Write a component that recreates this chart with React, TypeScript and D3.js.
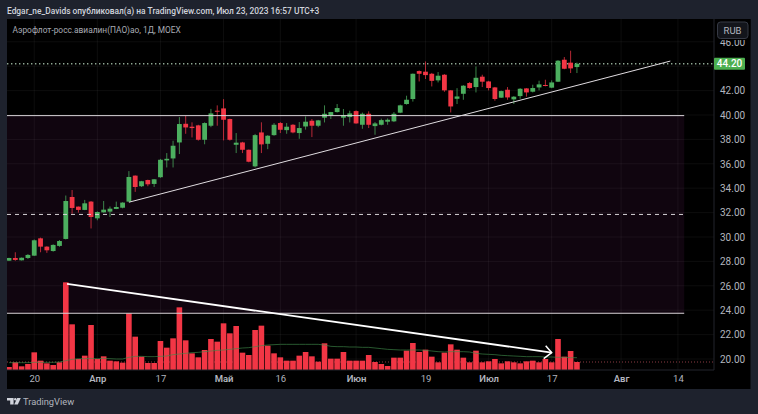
import React, { useRef, useEffect } from 'react';
import * as d3 from 'd3';

const opens = [28.06, 28.28, 28.09, 28.28, 28.47, 29.89, 29.21, 28.85, 29.27, 29.84, 33.28, 32.49, 32.22, 32.9, 31.53, 32.02, 32.08, 32.3, 32.4, 32.9, 35.03, 34.16, 34.67, 34.35, 34.9, 36.28, 36.44, 37.75, 39.28, 39.04, 39.15, 37.97, 39.12, 40.35, 40.54, 39.67, 37.56, 37.75, 37.15, 35.79, 38.57, 37.64, 38.35, 39.34, 38.76, 39.2, 38.52, 39.06, 39.53, 39.12, 39.78, 39.97, 40.24, 39.78, 39.83, 40.32, 39.2, 40.1, 39.09, 39.2, 39.45, 39.48, 40.19, 40.9, 41.31, 43.6, 43.55, 43.38, 42.84, 43.3, 42.02, 41.33, 41.74, 42.62, 42.29, 43.14, 42.75, 42.26, 41.42, 42.07, 41.28, 41.55, 42.18, 41.91, 42.26, 42.46, 42.24, 42.73, 44.53, 44.29, 43.93];
const closes = [28.28, 28.12, 28.3, 28.53, 29.73, 29.21, 28.91, 29.35, 29.67, 32.95, 32.38, 32.22, 32.76, 31.64, 32.05, 32.24, 32.32, 32.46, 32.82, 34.92, 34.1, 34.57, 34.32, 34.73, 36.33, 36.41, 37.48, 39.26, 38.98, 38.93, 37.97, 39.34, 40.13, 40.27, 39.61, 37.97, 37.73, 37.15, 36.17, 38.35, 37.59, 38.3, 39.2, 38.79, 39.04, 38.57, 38.93, 39.45, 39.12, 39.56, 40.1, 40.24, 40.57, 39.99, 40.13, 39.31, 40.1, 39.2, 39.31, 39.58, 39.61, 40.1, 40.79, 41.25, 43.38, 43.38, 43.27, 42.8, 43.22, 42.02, 40.7, 41.52, 42.4, 42.21, 43.05, 42.73, 42.21, 41.31, 41.96, 41.44, 41.5, 42.15, 41.85, 42.21, 42.51, 42.4, 42.67, 44.45, 43.79, 43.82, 44.2];
const highs = [28.3, 28.75, 28.32, 28.6, 29.8, 29.95, 29.25, 29.4, 29.75, 33.4, 33.85, 32.5, 33.04, 32.95, 32.1, 32.95, 32.5, 32.9, 32.85, 35.4, 35.05, 34.6, 34.7, 34.75, 36.4, 36.88, 37.89, 39.83, 39.94, 39.4, 39.2, 39.4, 40.5, 40.79, 41.3, 39.7, 38.52, 37.8, 37.17, 38.45, 39.4, 38.35, 39.34, 39.42, 39.34, 39.25, 39.42, 39.88, 39.67, 39.6, 40.79, 40.25, 40.9, 40.49, 40.35, 40.38, 40.2, 40.3, 39.42, 39.7, 39.72, 40.24, 40.85, 41.58, 43.4, 43.65, 44.39, 43.45, 43.52, 43.35, 42.05, 42.2, 42.45, 42.7, 43.98, 43.3, 42.8, 42.3, 42.0, 42.29, 41.55, 42.2, 42.2, 42.48, 42.81, 42.89, 42.84, 44.5, 44.75, 45.27, 44.3];
const lows = [28.04, 28.05, 28.07, 28.2, 28.45, 28.75, 28.7, 28.8, 29.2, 29.8, 31.9, 32.0, 32.2, 30.7, 31.37, 32.0, 31.64, 32.28, 32.35, 32.88, 33.7, 34.1, 34.16, 34.1, 34.85, 35.7, 35.7, 36.8, 38.46, 38.16, 37.9, 37.6, 39.0, 39.12, 37.92, 37.9, 36.88, 36.88, 36.12, 35.7, 36.88, 37.2, 38.3, 38.52, 38.46, 38.5, 38.05, 38.8, 38.19, 39.0, 39.39, 39.67, 40.2, 39.12, 39.39, 39.28, 38.87, 38.93, 38.38, 39.15, 39.2, 39.42, 40.15, 40.85, 41.1, 42.75, 42.95, 42.34, 42.67, 41.9, 40.21, 40.9, 41.25, 42.15, 41.85, 42.29, 42.02, 41.17, 41.4, 41.25, 40.9, 41.33, 41.5, 41.85, 42.02, 42.35, 42.2, 42.7, 43.75, 43.44, 43.44];
const volumes = [9, 23, 11, 18, 53, 28, 20, 15, 23, 263, 137, 33, 43, 135, 33, 41, 28, 26, 22, 170, 100, 40, 21, 21, 87, 67, 95, 188, 89, 50, 38, 60, 93, 85, 140, 110, 132, 52, 45, 120, 133, 73, 50, 38, 28, 28, 43, 54, 41, 25, 80, 34, 34, 54, 28, 28, 28, 45, 24, 18, 12, 37, 37, 58, 81, 54, 61, 40, 23, 52, 77, 61, 37, 23, 58, 23, 26, 33, 20, 26, 23, 20, 26, 28, 23, 33, 23, 93, 40, 57, 24];
const volumeMa = [22, 22, 22, 22, 23, 23, 23, 23, 24, 28, 32, 34, 34, 35, 34, 35, 34, 33, 33, 38, 41, 41, 40, 40, 41, 42, 46, 48, 50, 52, 53, 55, 57, 59, 60, 62, 64, 66, 67, 70, 73, 75, 76, 77, 77, 77, 77, 77, 77, 77, 75, 71, 70, 70, 69, 69, 68, 68, 66, 64, 62, 61, 60, 60, 60, 60, 59, 57, 55, 54, 55, 55, 55, 54, 50, 48, 47, 46, 44, 43, 42, 41, 40, 40, 40, 39, 39, 38, 38, 37, 37];

const lastPrice = 44.2;
const lastVolume = 24;
const gridPrices = [20, 22, 24, 26, 28, 30, 32, 34, 36, 38, 40, 42, 44, 46];
// 44.00 sits under the last price badge, so it gets no label
const priceLabels = [20, 22, 24, 26, 28, 30, 32, 34, 36, 38, 40, 42, 46];
const timeTickIndex = [4, 14, 24, 34, 43, 55, 66, 76, 86, 97, 106];
const timeTickLabels = ['20', 'Апр', '17', 'Май', '16', 'Июн', '19', 'Июл', '17', 'Авг', '14'];
const monthLabels = new Set(['Апр', 'Май', 'Июн', 'Июл', 'Авг']);

// levels and drawings from the author, [index, price]
const zoneTop = 39.95;
const zoneMid = 31.85;
const zoneBottom = 23.75;
const zoneEndIndex = 107;
const supportLine: [number, number][] = [[19, 32.85], [104.8, 44.42]];
const volumeArrow: [number, number][] = [[9.2, 26.15], [86, 20.52]];

const WIDTH = 758;
const HEIGHT = 414;
const pane = { left: 7, right: 714, top: 19, bottom: 370, outerRight: 750.5, outerBottom: 389 };

const GREEN = '#4caf5f';
const RED = '#f23645';
const FONT = 'Roboto, "Liberation Sans", sans-serif';

const App: React.FC = () => {
  const svgRef = useRef<SVGSVGElement>(null);

  useEffect(() => {
    if (!svgRef.current) return;
    const svg = d3.select(svgRef.current);
    svg.selectAll('*').remove();

    const xScale = d3.scaleLinear().domain([0, 106]).range([9, 677.9]);
    const yScale = d3.scaleLinear().domain([20, 40]).range([359, 115]);
    const volScale = d3.scaleLinear().domain([0, 300]).range([370, 270]);

    // page and chart panel
    svg.append('rect').attr('width', WIDTH).attr('height', HEIGHT).attr('fill', '#1e222d');
    svg.append('rect')
      .attr('x', pane.left)
      .attr('y', pane.top)
      .attr('width', pane.outerRight - pane.left)
      .attr('height', pane.outerBottom - pane.top)
      .attr('fill', '#000000');

    svg.append('defs').append('clipPath').attr('id', 'pane-clip').append('rect')
      .attr('x', pane.left)
      .attr('y', pane.top)
      .attr('width', pane.right - pane.left)
      .attr('height', pane.bottom - pane.top);

    const g = svg.append('g').attr('clip-path', 'url(#pane-clip)');

    // purple zone between the levels
    g.append('rect')
      .attr('x', pane.left)
      .attr('y', yScale(zoneTop))
      .attr('width', xScale(zoneEndIndex) - pane.left)
      .attr('height', yScale(zoneBottom) - yScale(zoneTop))
      .attr('fill', '#10050f');

    // grid
    g.selectAll('.grid-v')
      .data(timeTickIndex)
      .enter()
      .append('line')
      .attr('x1', d => xScale(d))
      .attr('x2', d => xScale(d))
      .attr('y1', pane.top)
      .attr('y2', pane.bottom)
      .attr('stroke', '#ffffff')
      .attr('stroke-opacity', 0.05);

    g.selectAll('.grid-h')
      .data(gridPrices)
      .enter()
      .append('line')
      .attr('x1', pane.left)
      .attr('x2', pane.right)
      .attr('y1', d => yScale(d))
      .attr('y2', d => yScale(d))
      .attr('stroke', '#ffffff')
      .attr('stroke-opacity', 0.05);

    // last price / last volume lines
    g.append('line')
      .attr('x1', pane.left)
      .attr('x2', pane.right)
      .attr('y1', yScale(lastPrice))
      .attr('y2', yScale(lastPrice))
      .attr('stroke', '#8fa893')
      .attr('stroke-width', 1.4)
      .attr('stroke-dasharray', '1.4 2.6');

    g.append('line')
      .attr('x1', pane.left)
      .attr('x2', pane.right)
      .attr('y1', volScale(lastVolume))
      .attr('y2', volScale(lastVolume))
      .attr('stroke', '#8a3a42')
      .attr('stroke-dasharray', '1 2');

    // volume
    g.selectAll('.vol')
      .data(volumes)
      .enter()
      .append('rect')
      .attr('x', (_, i) => xScale(i) - 2.8)
      .attr('y', d => volScale(d))
      .attr('width', 5.6)
      .attr('height', d => volScale(0) - volScale(d))
      .attr('fill', RED);

    const maLine = d3.line<number>()
      .x((_, i) => xScale(i))
      .y(d => volScale(d));

    g.append('path')
      .attr('d', maLine(volumeMa))
      .attr('fill', 'none')
      .attr('stroke', '#3f8a4a')
      .attr('stroke-opacity', 0.8)
      .attr('stroke-width', 0.8);

    // candles
    const candles = g.selectAll('.candle')
      .data(opens)
      .enter()
      .append('g')
      .attr('fill', (d, i) => (closes[i] >= d ? GREEN : RED))
      .attr('stroke', (d, i) => (closes[i] >= d ? GREEN : RED));

    candles.append('line')
      .attr('x1', (_, i) => xScale(i))
      .attr('x2', (_, i) => xScale(i))
      .attr('y1', (_, i) => yScale(highs[i]))
      .attr('y2', (_, i) => yScale(lows[i]))
      .attr('stroke-opacity', 0.75)
      .attr('stroke-width', 1);

    candles.append('rect')
      .attr('x', (_, i) => xScale(i) - 2.4)
      .attr('y', (d, i) => yScale(Math.max(d, closes[i])))
      .attr('width', 4.8)
      .attr('height', (d, i) => Math.max(1, Math.abs(yScale(d) - yScale(closes[i]))))
      .attr('stroke', 'none');

    // horizontal levels
    [zoneTop, zoneBottom].forEach(level => {
      g.append('line')
        .attr('x1', pane.left)
        .attr('x2', xScale(zoneEndIndex))
        .attr('y1', yScale(level))
        .attr('y2', yScale(level))
        .attr('stroke', '#d8d4d8')
        .attr('stroke-width', 1);
    });

    g.append('line')
      .attr('x1', pane.left)
      .attr('x2', xScale(zoneEndIndex))
      .attr('y1', yScale(zoneMid))
      .attr('y2', yScale(zoneMid))
      .attr('stroke', '#d8d4d8')
      .attr('stroke-width', 1)
      .attr('stroke-dasharray', '4 4');

    // trend line and arrow
    const drawLine = d3.line<[number, number]>()
      .x(d => xScale(d[0]))
      .y(d => yScale(d[1]));

    g.append('path')
      .attr('d', drawLine(supportLine))
      .attr('fill', 'none')
      .attr('stroke', '#e0dce0')
      .attr('stroke-width', 1);

    g.append('path')
      .attr('d', drawLine(volumeArrow))
      .attr('fill', 'none')
      .attr('stroke', '#ffffff')
      .attr('stroke-width', 1.8);

    const tipX = xScale(volumeArrow[1][0]);
    const tipY = yScale(volumeArrow[1][1]);
    g.append('path')
      .attr('d', `M${tipX - 6},${tipY - 7}L${tipX},${tipY}L${tipX - 8},${tipY + 6}`)
      .attr('fill', 'none')
      .attr('stroke', '#ffffff')
      .attr('stroke-width', 1.5);

    // axes
    const xAxis = d3.axisBottom(xScale)
      .tickValues(timeTickIndex)
      .tickSize(0)
      .tickPadding(5)
      .tickFormat((_, i) => timeTickLabels[i]);

    const xAxisGroup = svg.append('g')
      .attr('transform', `translate(0,${pane.bottom})`)
      .call(xAxis);
    xAxisGroup.select('.domain')
      .attr('d', `M${pane.left},0H${pane.right}`)
      .attr('stroke', '#22252c');
    xAxisGroup.selectAll<SVGTextElement, number>('.tick text')
      .style('font-family', FONT)
      .style('font-size', '9.5px')
      .style('font-weight', (_, i) => (monthLabels.has(timeTickLabels[i]) ? '600' : '400'))
      .attr('fill', '#b2b5be');

    const yAxis = d3.axisRight(yScale)
      .tickValues(priceLabels)
      .tickSize(0)
      .tickPadding(6)
      .tickFormat(d => d3.format('.2f')(d as number));

    const yAxisGroup = svg.append('g')
      .attr('transform', `translate(${pane.right},0)`)
      .call(yAxis);
    yAxisGroup.select('.domain')
      .attr('d', `M0,${pane.top}V${pane.bottom}`)
      .attr('stroke', '#22252c');
    yAxisGroup.selectAll('.tick text')
      .style('font-family', FONT)
      .style('font-size', '10px')
      .attr('fill', '#b2b5be');

    // last price badge
    svg.append('rect')
      .attr('x', 714)
      .attr('y', yScale(lastPrice) - 6)
      .attr('width', 31)
      .attr('height', 12)
      .attr('rx', 1)
      .attr('fill', '#4caf50');
    svg.append('text')
      .attr('x', 729.5)
      .attr('y', yScale(lastPrice) + 3.5)
      .attr('text-anchor', 'middle')
      .attr('fill', '#ffffff')
      .style('font-family', FONT)
      .style('font-size', '10px')
      .style('font-weight', 500)
      .text(d3.format('.2f')(lastPrice));

    // currency button, its backing cuts the top of the 46.00 label
    svg.append('rect')
      .attr('x', 715)
      .attr('y', pane.top)
      .attr('width', 35.5)
      .attr('height', 21)
      .attr('fill', '#000000');
    svg.append('rect')
      .attr('x', 717.5)
      .attr('y', 22)
      .attr('width', 30.5)
      .attr('height', 16.5)
      .attr('rx', 3)
      .attr('fill', '#13151b')
      .attr('stroke', '#363a45');
    svg.append('text')
      .attr('x', 732.5)
      .attr('y', 33.8)
      .attr('text-anchor', 'middle')
      .attr('fill', '#b2b5be')
      .style('font-family', FONT)
      .style('font-size', '9.5px')
      .text('RUB');

    // header texts
    svg.append('text')
      .attr('x', 7)
      .attr('y', 13.5)
      .attr('fill', '#d1d4dc')
      .style('font-family', FONT)
      .style('font-size', '8.4px')
      .style('font-weight', 500)
      .text('Edgar_ne_Davids опубликовал(а) на TradingView.com, Июл 23, 2023 16:57 UTC+3');

    svg.append('text')
      .attr('x', 12.5)
      .attr('y', 32.5)
      .attr('fill', '#a8abb4')
      .style('font-family', FONT)
      .style('font-size', '8.35px')
      .text('Аэрофлот-росс.авиалин(ПАО)ао, 1Д, MOEX');

    // logo
    const logo = svg.append('g').attr('transform', 'translate(7,398)').attr('fill', '#d1d4dc');
    logo.append('path').attr('d', 'M0,0H6.6V6.4H3.2V2.4H0Z');
    logo.append('circle').attr('cx', 8.3).attr('cy', 1.2).attr('r', 1.2);
    logo.append('path').attr('d', 'M10.2,0H13.8L10.8,6.4H7.2Z');
    svg.append('text')
      .attr('x', 23)
      .attr('y', 405)
      .attr('fill', '#b2b5be')
      .style('font-family', FONT)
      .style('font-size', '9.3px')
      .text('TradingView');
  }, []);

  return (
    <svg
      ref={svgRef}
      width={WIDTH}
      height={HEIGHT}
      style={{ position: 'absolute', left: 0, top: 0, display: 'block' }}
    />
  );
};

export default App;
